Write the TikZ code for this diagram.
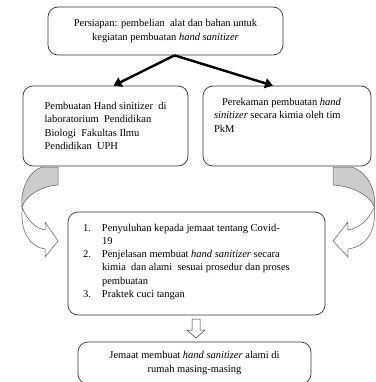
\documentclass[tikz,border=0pt]{standalone}
\usepackage{fontspec}
\setmainfont{Liberation Serif}
\usetikzlibrary{arrows.meta}

\begin{document}
\begin{tikzpicture}[x=1pt,y=-1pt,
  kotak/.style={draw=black!80, line width=0.7pt, rounded corners=10pt, align=center, inner sep=0pt, font=\fontsize{10.5}{13.5}\selectfont},
  panah/.style={line width=2.4pt, -{Triangle[length=8pt,width=10pt]}},
  lengkung/.style={draw=black!65, line width=0.5pt}]
\clip (0,0) rectangle (375,382);
% kotak-kotak
\node[kotak, minimum width=235pt, minimum height=48pt] (persiapan) at (165.5,31) {Persiapan: pembelian\ \ alat dan bahan untuk\\ kegiatan pembuatan \textit{hand sanitizer}};
\node[kotak, align=left, minimum width=165pt, minimum height=80pt] (pembuatan) at (105.5,126) {Pembuatan Hand sinitizer\ \ di\\ laboratorium\ \ Pendidikan\\ Biologi\ \ Fakultas Ilmu\\ Pendidikan\ \ UPH};
\node[kotak, minimum width=168pt, minimum height=80pt] (perekaman) at (287,126) {\parbox[c][56pt][t]{146pt}{\raggedright\hspace*{8pt}Perekaman pembuatan \textit{hand}\\ \textit{sinitizer} secara kimia oleh tim\\ PkM}};
\node[kotak, minimum width=257pt, minimum height=103pt] (kegiatan) at (196.5,263.5) {\parbox[c][82pt][t]{240pt}{\renewcommand\arraystretch{0.97}\begin{tabular}{@{\hspace{6.5pt}}p{19pt}@{}l@{}}
1. & Penyuluhan kepada jemaat tentang Covid-\\
   & 19\\
2. & Penjelasan membuat \textit{hand sanitizer} secara\\
   & kimia\ \ dan alami\ \ sesuai prosedur dan proses\\
   & pembuatan\\
3. & Praktek cuci tangan
\end{tabular}}};
\node[kotak, minimum width=233pt, minimum height=42pt] (jemaat) at (194.5,363) {Jemaat membuat \textit{hand sanitizer} alami di\\ rumah masing-masing};

% panah
\draw[panah] ([xshift=9pt]persiapan.south) -- ([xshift=8pt]pembuatan.north);
\draw[panah] ([xshift=9pt]persiapan.south) -- ([xshift=-14pt]perekaman.north);

% panah lengkung kiri dan kanan
\foreach \s/\m in {0/1, 399.7/-1.15}{
\begin{scope}[shift={(\s,0)}, xscale=\m]
\filldraw[lengkung, fill=gray!40] (42,167) -- (58,167) -- (58,185) .. controls (42,186) and (26,195) .. (22,207) .. controls (20,190) and (29,171) .. (42,167) -- cycle;
\filldraw[lengkung, fill=white] (22,207) .. controls (27,220) and (35,228) .. (45,230) -- (45,222) -- (58,241) -- (45,257) -- (45,249) .. controls (30,247) and (21,232) .. (22,212) -- cycle;
\end{scope}
}

% panah bawah
\draw[black!80, line width=0.5pt] (192,319) -- (200,319) -- (200,330) -- (205,330) -- (196,338) -- (187,330) -- (192,330) -- cycle;
\end{tikzpicture}
\end{document}
